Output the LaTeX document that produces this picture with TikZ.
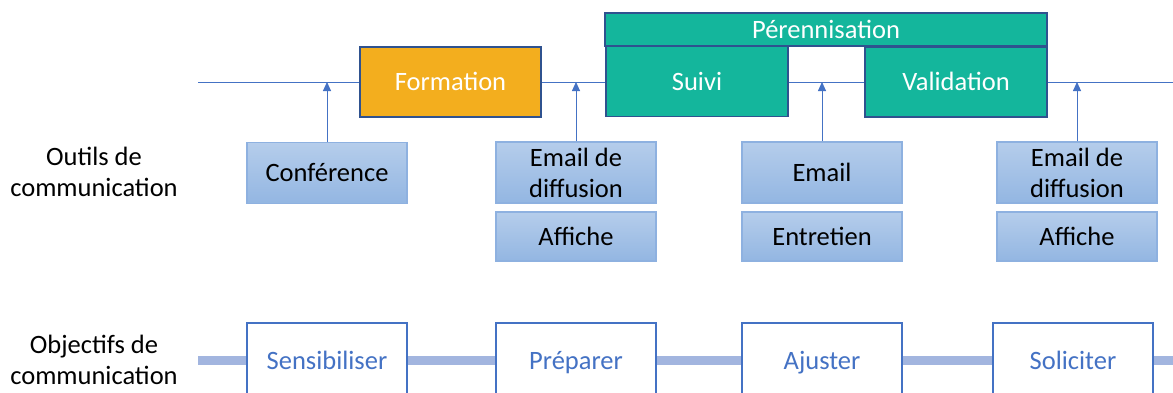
\documentclass[tikz,border=0pt]{standalone}
\usepackage{fontspec}
\setmainfont{Carlito}
\usetikzlibrary{arrows.meta}
\definecolor{acc}{HTML}{4472C4}
\definecolor{dkb}{HTML}{2F528F}
\definecolor{goldc}{HTML}{F3AE1E}
\definecolor{tealc}{HTML}{14B69C}
\definecolor{gtop}{HTML}{B5CDEB}
\definecolor{gbot}{HTML}{93B6E2}
\definecolor{gbrd}{HTML}{8EB1E0}
\definecolor{thickc}{HTML}{A2B5DF}
\tikzset{
  txt/.style={font=\fontsize{26.5}{31}\selectfont, align=center, inner sep=0pt},
  one/.style={text height=19pt, text depth=2pt},
  toolbox/.style={txt, rectangle, draw=gbrd, line width=1.2pt, top color=gtop, bottom color=gbot, minimum width=160pt, text=black},
  goalbox/.style={txt, one, rectangle, draw=acc, line width=1.2pt, fill=white, minimum width=160pt, minimum height=76pt, text=acc},
  phase/.style={txt, one, rectangle, draw=dkb, line width=1.3pt, text=white, minimum height=70pt},
  arr/.style={draw=acc, line width=0.9pt, -{Triangle[width=8pt,length=9pt]}},
}
\begin{document}
\begin{tikzpicture}[x=1pt,y=-1pt]
\clip (0,0) rectangle (1173,392);
\fill[white] (0,0) rectangle (1173,392);
\coordinate (tlL) at (198,82);
\coordinate (tlR) at (1173,82);
\coordinate (blL) at (198,360);
\coordinate (blR) at (1173,360);
\draw[acc, line width=0.9pt] (tlL) -- (tlR);
\draw[thickc, line width=9pt] (blL) -- (blR);

% phases
\node[phase, fill=goldc, minimum width=181pt] (form) at (450.5,82) {Formation};
\node[phase, fill=tealc, minimum width=442pt, minimum height=33pt] (peren) at (826,29.5) {Pérennisation};
\node[phase, fill=tealc, minimum width=182pt] (suivi) at (697,81.5) {Suivi};
\node[phase, fill=tealc, minimum width=182pt] (valid) at (956,82) {Validation};

% tools
\node[toolbox, one, minimum height=61pt] (conf) at (327,173) {Conférence};
\node[toolbox, minimum height=61pt] (em1) at (576,172.5) {Email de\\diffusion};
\node[toolbox, one, minimum height=49pt] (aff1) at (576,236.5) {Affiche};
\node[toolbox, one, minimum height=61pt] (em2) at (822,172.5) {Email};
\node[toolbox, one, minimum height=49pt] (ent) at (822,236.5) {Entretien};
\node[toolbox, minimum height=61pt] (em3) at (1077,172.5) {Email de\\diffusion};
\node[toolbox, one, minimum height=49pt] (aff3) at (1077,236.5) {Affiche};

% arrows
\draw[arr] (conf.north) -- (conf.north |- tlL);
\draw[arr] (em1.north) -- (em1.north |- tlL);
\draw[arr] (em2.north) -- (em2.north |- tlL);
\draw[arr] (em3.north) -- (em3.north |- tlL);

% goals
\node[goalbox] (sens) at (327,361) {Sensibiliser};
\node[goalbox] (prep) at (576,361) {Préparer};
\node[goalbox] (ajus) at (822,361) {Ajuster};
\node[goalbox] (sol) at (1073,361) {Soliciter};

% labels
\node[txt] (lab1) at (94,172) {Outils de\\communication};
\node[txt] (lab2) at (94,360) {Objectifs de\\communication};
\end{tikzpicture}
\end{document}
